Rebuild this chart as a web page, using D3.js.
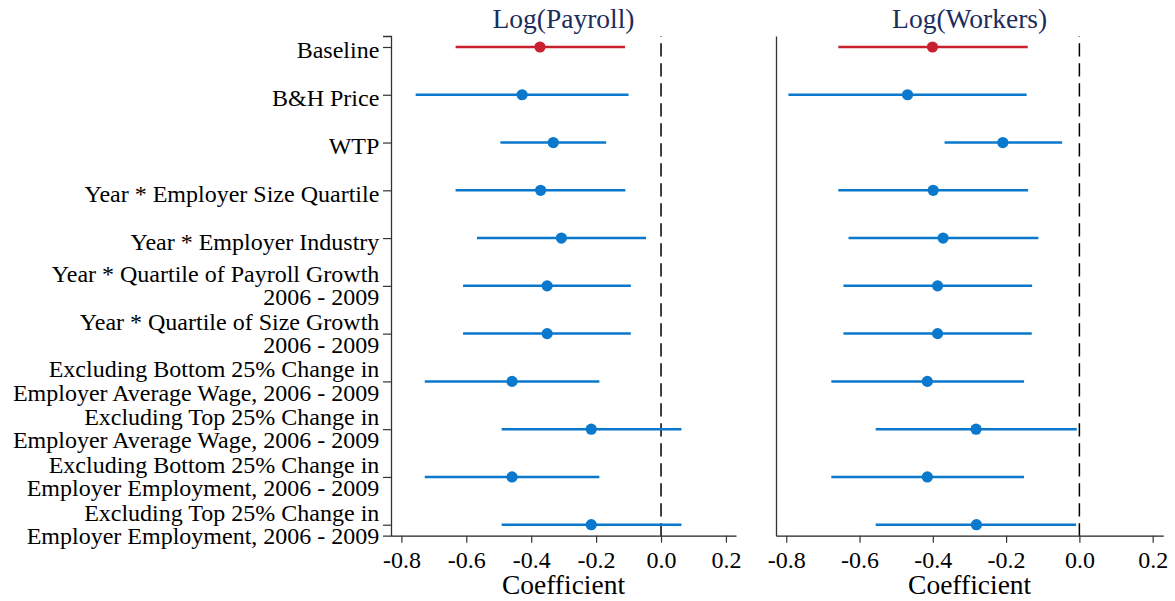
<!DOCTYPE html>
<html>
<head>
<meta charset="utf-8">
<script src="https://cdn.jsdelivr.net/npm/d3@7"></script>
<style>
  body { margin: 0; background: #fff; }
  text { font-family: "Liberation Serif", "Times New Roman", serif; }
</style>
</head>
<body>
<script>
// coefficient plot, two panels side by side
var rows = [
  "Baseline",
  "B&H Price",
  "WTP",
  "Year * Employer Size Quartile",
  "Year * Employer Industry",
  "Year * Quartile of Payroll Growth\n2006 - 2009",
  "Year * Quartile of Size Growth\n2006 - 2009",
  "Excluding Bottom 25% Change in\nEmployer Average Wage, 2006 - 2009",
  "Excluding Top 25% Change in\nEmployer Average Wage, 2006 - 2009",
  "Excluding Bottom 25% Change in\nEmployer Employment, 2006 - 2009",
  "Excluding Top 25% Change in\nEmployer Employment, 2006 - 2009"
];

var payrollCoef = [-0.373, -0.428, -0.332, -0.371, -0.307, -0.351, -0.351, -0.459, -0.215, -0.459, -0.215];
var payrollLo   = [-0.633, -0.756, -0.495, -0.633, -0.567, -0.610, -0.610, -0.728, -0.491, -0.728, -0.491];
var payrollHi   = [-0.111, -0.100, -0.169, -0.110, -0.046, -0.093, -0.093, -0.190,  0.063, -0.190,  0.063];

var workersCoef = [-0.401, -0.469, -0.209, -0.399, -0.372, -0.387, -0.387, -0.415, -0.282, -0.415, -0.281];
var workersLo   = [-0.658, -0.794, -0.368, -0.658, -0.630, -0.644, -0.644, -0.677, -0.556, -0.677, -0.556];
var workersHi   = [-0.141, -0.144, -0.047, -0.140, -0.112, -0.129, -0.130, -0.151, -0.007, -0.151, -0.009];

var xTicks = [-0.8, -0.6, -0.4, -0.2, 0, 0.2];
var titles = ["Log(Payroll)", "Log(Workers)"];
var xTitle = "Coefficient";

var red = "#c9202f";
var blue = "#0a78cc";

var width = 1175, height = 601;
var plotTop = 36, plotBottom = 535.7;

var svg = d3.select("body").append("svg")
    .attr("width", width)
    .attr("height", height);

var y = d3.scalePoint()
    .domain(rows)
    .range([plotTop, plotBottom])
    .padding(0.23);

var panels = [
  {title: titles[0], coef: payrollCoef, lo: payrollLo, hi: payrollHi,
   left: 391, right: 736, domain: [-0.832, 0.231], labels: true},
  {title: titles[1], coef: workersCoef, lo: workersLo, hi: workersHi,
   left: 776, right: 1163.3, domain: [-0.828, 0.229], labels: false}
];

panels.forEach(drawPanel);

function drawPanel(p)
{
  var x = d3.scaleLinear()
      .domain(p.domain)
      .range([p.left, p.right]);

  var g = svg.append("g");

  // bottom axis
  var xAxis = d3.axisBottom(x)
      .tickValues(xTicks)
      .tickSize(7)
      .tickSizeOuter(0)
      .tickPadding(8.5)
      .tickFormat(function(d) { return d.toFixed(1); });

  var xg = g.append("g")
      .attr("transform", "translate(0," + plotBottom + ")")
      .call(xAxis);
  xg.selectAll("text").style("font-size", "24px").attr("fill", "#000");
  xg.selectAll("line").attr("stroke", "#333").attr("stroke-width", 1.2);
  xg.select(".domain").attr("stroke", "#222").attr("stroke-width", 1.3);

  // left axis
  var yAxis = d3.axisLeft(y)
      .tickSizeOuter(0)
      .tickSize(p.labels ? 8 : 0)
      .tickPadding(3.7);
  if (!p.labels) yAxis.tickValues([]);

  var yg = g.append("g")
      .attr("transform", "translate(" + p.left + ",0)")
      .call(yAxis);
  yg.select(".domain").attr("stroke", "#333").attr("stroke-width", 1.3);
  yg.selectAll("line").attr("stroke", "#333").attr("stroke-width", 1.2);

  if (p.labels) {
    yg.selectAll("text").each(function(d) {
      var t = d3.select(this).attr("dy", null).text(null).style("font-size", "24px").attr("fill", "#000");
      var lines = d.split("\n");
      var pos = lines.length == 1 ? [11] : [-4.5, 18.8];
      lines.forEach(function(s, i) {
        t.append("tspan").attr("x", -11.7).attr("y", pos[i]).text(s);
      });
    });
  }

  // zero reference line
  g.append("line")
      .attr("x1", x(0)).attr("x2", x(0))
      .attr("y1", plotTop).attr("y2", plotBottom)
      .attr("stroke", "#000")
      .attr("stroke-width", 1.5)
      .attr("stroke-dasharray", "13.3,6.7")
      .attr("stroke-dashoffset", 12.7);

  // confidence intervals
  g.selectAll(".ci")
      .data(rows)
    .enter().append("line")
      .attr("class", "ci")
      .attr("x1", function(d, i) { return x(p.lo[i]); })
      .attr("x2", function(d, i) { return x(p.hi[i]); })
      .attr("y1", function(d) { return y(d); })
      .attr("y2", function(d) { return y(d); })
      .attr("stroke", function(d, i) { return i == 0 ? red : blue; })
      .attr("stroke-width", 2.5);

  // point estimates
  g.selectAll(".dot")
      .data(rows)
    .enter().append("circle")
      .attr("class", "dot")
      .attr("cx", function(d, i) { return x(p.coef[i]); })
      .attr("cy", function(d) { return y(d); })
      .attr("r", 5.6)
      .attr("fill", function(d, i) { return i == 0 ? red : blue; });

  var mid = (p.left + p.right) / 2;

  g.append("text")
      .attr("x", mid)
      .attr("y", 28.3)
      .attr("text-anchor", "middle")
      .style("font-size", "27.5px")
      .attr("fill", "#1c2d5c")
      .text(p.title);

  g.append("text")
      .attr("x", mid)
      .attr("y", 594.3)
      .attr("text-anchor", "middle")
      .style("font-size", "27.5px")
      .attr("fill", "#000")
      .text(xTitle);
}
</script>
</body>
</html>
